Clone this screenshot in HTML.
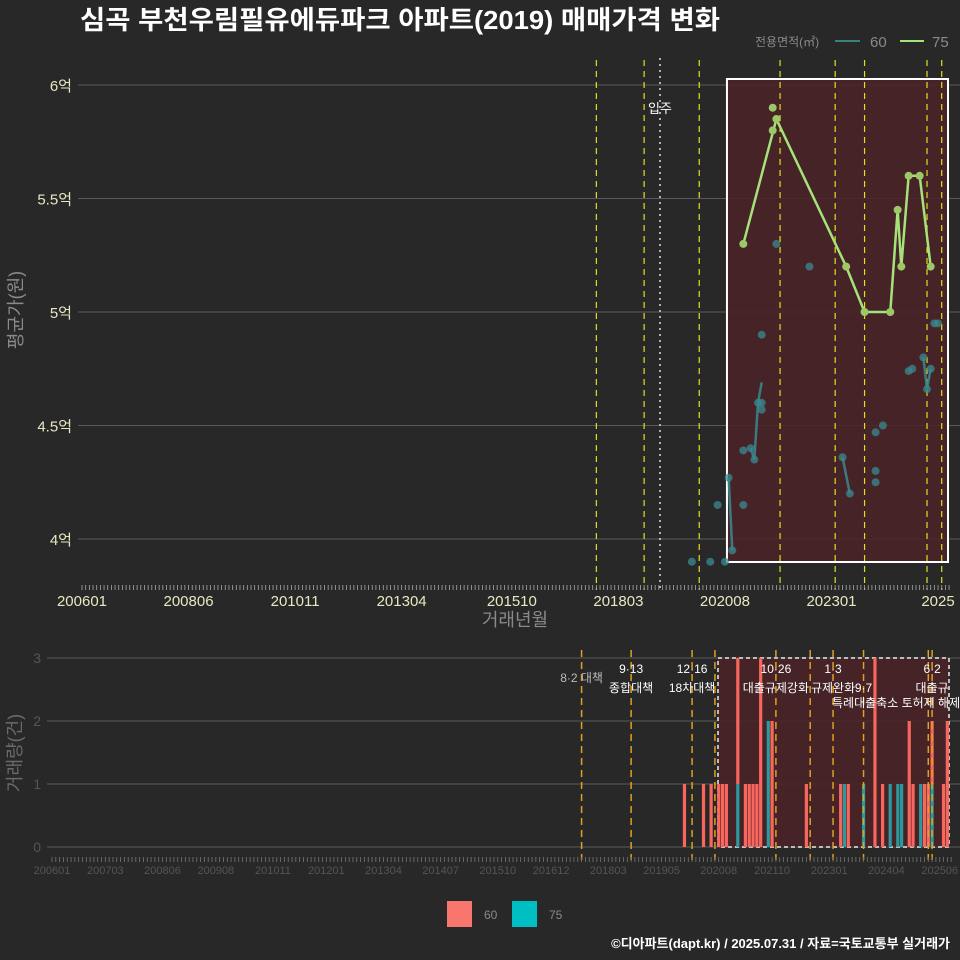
<!DOCTYPE html>
<html><head><meta charset="utf-8">
<style>
html,body{margin:0;padding:0;background:#282828;}
svg{display:block;}
text{font-family:"Liberation Sans","Noto Sans CJK KR",sans-serif;}
</style></head>
<body>
<svg id="chart" width="960" height="960" viewBox="0 0 960 960" xmlns="http://www.w3.org/2000/svg">
<rect x="0" y="0" width="960" height="960" fill="#282828"/>
<text x="80" y="29" font-size="26" font-weight="bold" fill="#ffffff" textLength="640" lengthAdjust="spacingAndGlyphs">심곡 부천우림필유에듀파크 아파트(2019) 매매가격 변화</text>
<g>
<text x="755" y="46" font-size="12" fill="#8a8a8a">전용면적(㎡)</text>
<line x1="835" y1="41" x2="860" y2="41" stroke="#3a7f86" stroke-width="2"/>
<text x="870" y="47" font-size="15" fill="#8a8a8a">60</text>
<line x1="900" y1="41" x2="924" y2="41" stroke="#a6e27a" stroke-width="2"/>
<text x="932" y="47" font-size="15" fill="#8a8a8a">75</text>
</g>
<g id="topPanel"></g>
<g id="botPanel"></g>
<g>
<rect x="447" y="901" width="25" height="26" fill="#f8766d"/>
<text x="484" y="919" font-size="12" fill="#8a8a8a">60</text>
<rect x="512" y="901" width="25" height="26" fill="#00bfc4"/>
<text x="549" y="919" font-size="12" fill="#8a8a8a">75</text>
</g>
<text x="950" y="948" font-size="13" font-weight="bold" fill="#ffffff" text-anchor="end">©디아파트(dapt.kr) / 2025.07.31 / 자료=국토교통부 실거래가</text>
</svg>
<script>
// ---- data ----
const pts75Months=["202101","202109","202109","202110","202305","202310","202405","202407","202408","202410","202501","202504"];
const pts75Values=[5.30,5.90,5.80,5.85,5.20,5.00,5.00,5.45,5.20,5.60,5.60,5.20];
const line75Months=["202101","202110","202305","202310","202405","202407","202408","202410","202501","202504"];
const line75Values=[5.30,5.85,5.20,5.00,5.00,5.45,5.20,5.60,5.60,5.20];
const pts60Months=["201911","202004","202006","202008","202009","202010","202101","202101","202103","202104","202105","202106","202106","202106","202110","202207","202304","202306","202401","202403","202401","202401","202410","202411","202502","202503","202504","202505","202506"];
const pts60Values=[3.90,3.90,4.15,3.90,4.27,3.95,4.15,4.39,4.40,4.35,4.60,4.60,4.57,4.90,5.30,5.20,4.36,4.20,4.47,4.50,4.30,4.25,4.74,4.75,4.80,4.66,4.75,4.95,4.95];
const line60Runs=[["202009","202010"],["202103","202104","202105","202106"],["202304","202306"],["202502","202503","202504"]];
const line60RunValues=[[4.27,3.95],[4.40,4.35,4.60,4.69],[4.36,4.20],[4.80,4.66,4.75]];
const priceTicks=[4,4.5,5,5.5,6];
const priceTickLabels=["4억","4.5억","5억","5.5억","6억"];
const topXLabels=["200601","200806","201011","201304","201510","201803","202008","202301","202506"];
const topXText=["200601","200806","201011","201304","201510","201803","202008","202301","2025"];
const volMonths60=["201911","202004","202006","202008","202009","202010","202101","202103","202104","202105","202106","202107","202110","202207","202304","202306","202401","202403","202410","202411","202502","202503","202504","202507","202508"];
const volCounts60=[1,1,1,1,1,1,2,1,1,1,1,3,2,1,1,1,3,1,2,1,1,1,1,1,2];
const volMonths75=["202101","202109","202305","202310","202405","202407","202408","202501","202504"];
const volCounts75=[1,2,1,1,1,1,1,1,1];
const volTicks=[0,1,2,3];
const botXLabels=["200601","200703","200806","200908","201011","201201","201304","201407","201510","201612","201803","201905","202008","202110","202301","202404","202506"];
const topEvents=["201709","201810","202001","202111","202302","202310","202503","202507"];
const botEvents=["201708","201809","202001","202007","202111","202208","202302","202310","202503","202504"];
const eventTop=["8·2 대책","9·13","12·16","10·26","1·3","","6·2"];
const eventTopMonths=["201708","201809","202001","202111","202302","202310","202504"];
const eventBottom=["","종합대책","18차대책","대출규제강화","규제완화","9·7","대출규"];

// ---- scales ----
function mIdx(s){return (parseInt(s.slice(0,4))-2006)*12+parseInt(s.slice(4,6))-1;}
function xT(s){return 82+mIdx(s)*3.674;}
function yT(v){return 539-(v-4)*227;}
function xB(s){return 52+mIdx(s)*3.81;}
function yB(c){return 847-c*63;}
const NS="http://www.w3.org/2000/svg";
function mk(parent,tag,attrs){const e=document.createElementNS(NS,tag);for(const k in attrs)e.setAttribute(k,attrs[k]);parent.appendChild(e);return e;}

// ---- top panel ----
const topG=document.getElementById('topPanel');
priceTicks.forEach((v,i)=>{
 const g=mk(topG,'line',{x1:78,x2:960,y1:yT(v),y2:yT(v),stroke:'#5a5a5a','stroke-width':1});
 
 
 const t=mk(topG,'text',{x:72,y:yT(v)+6,'font-size':15,fill:'#e8e8c0','text-anchor':'end'});
 t.textContent=priceTickLabels[i];
 
 
});
const shade=mk(topG,'rect',{x:xT("202008")+2,y:79,width:948-xT("202008")-2,height:483,fill:'#4a2226','fill-opacity':0.85,stroke:'#ffffff','stroke-width':2});


topEvents.forEach(m=>{
 const l=mk(topG,'line',{x1:xT(m),x2:xT(m),y1:60,y2:590,stroke:'#e0e020','stroke-width':1.2,'stroke-dasharray':'6 5'});
 
 
});
const mv=mk(topG,'line',{x1:660,x2:660,y1:58,y2:590,stroke:'#dddddd','stroke-width':1.5,'stroke-dasharray':'2 4'});


const mvt=mk(topG,'text',{x:660,y:113,'font-size':13,fill:'#ffffff','text-anchor':'middle'});
mvt.textContent='입주';


line60Runs.forEach((run,ri)=>{
 const d=run.map((m,i)=>(i?'L':'M')+xT(m)+','+yT(line60RunValues[ri][i])).join(' ');
 const p=mk(topG,'path',{d:d,fill:'none',stroke:'#3a8a92','stroke-width':2.5,'stroke-opacity':0.85});
 
 
});
pts60Months.forEach((m,i)=>{
 const c=mk(topG,'circle',{cx:xT(m),cy:yT(pts60Values[i]),r:4,fill:'#3a8a92','fill-opacity':0.75});
 
 
});
const d75=line75Months.map((m,i)=>(i?'L':'M')+xT(m)+','+yT(line75Values[i])).join(' ');
const p75=mk(topG,'path',{d:d75,fill:'none',stroke:'#a6e27a','stroke-width':2.5});


pts75Months.forEach((m,i)=>{
 const c=mk(topG,'circle',{cx:xT(m),cy:yT(pts75Values[i]),r:4,fill:'#9cc868'});
 
 
});
for(let m=0;m<=236;m++){
 const x=82+m*3.674; const l=mk(topG,'line',{x1:x,x2:x,y1:585,y2:590,stroke:'#aaaaaa','stroke-width':0.8});
 
 
}
topXLabels.forEach((s,i)=>{
 const t=mk(topG,'text',{x:xT(s),y:606,'font-size':15,fill:'#e8e8c0','text-anchor':'middle'});
 t.textContent=topXText[i];
 
 
});
const xt=mk(topG,'text',{x:515,y:626,'font-size':18,fill:'#8a8a8a','text-anchor':'middle'});
xt.textContent='거래년월';


const yt=mk(topG,'text',{x:0,y:0,'font-size':18,fill:'#8a8a8a','text-anchor':'middle',transform:'translate(22,310) rotate(-90)'});
yt.textContent='평균가(원)';



// ---- bottom panel ----
const botG=document.getElementById('botPanel');
volTicks.forEach(v=>{
 const g=mk(botG,'line',{x1:47,x2:960,y1:yB(v),y2:yB(v),stroke:'#5a5a5a','stroke-width':1});
 
 
 const t=mk(botG,'text',{x:41,y:yB(v)+5,'font-size':14,fill:'#555555','text-anchor':'end'});
 t.textContent=String(v);
 
 
});
const bs=mk(botG,'rect',{x:718,y:658,width:231,height:189,fill:'#4a2226','fill-opacity':0.85,stroke:'#bbbbbb','stroke-width':2,'stroke-dasharray':'4 3'});


const bw=3.2;
volMonths75.forEach((m,i)=>{
 const r=mk(botG,'rect',{x:xB(m)-bw/2,y:yB(volCounts75[i]),width:bw,height:volCounts75[i]*63,fill:'#2a9a9e'});
 
 
});
volMonths60.forEach((m,i)=>{
 const j=volMonths75.indexOf(m); const base=j>=0?volCounts75[j]:0;
 const r=mk(botG,'rect',{x:xB(m)-bw/2,y:yB(base+volCounts60[i]),width:bw,height:volCounts60[i]*63,fill:'#f8665d'});
 
 
});
botEvents.forEach(m=>{
 const l=mk(botG,'line',{x1:xB(m),x2:xB(m),y1:650,y2:860,stroke:'#e0a020','stroke-width':1.5,'stroke-dasharray':'7 5'});
 
 
});
eventTopMonths.forEach((m,i)=>{
 if(eventTop[i]){const t=mk(botG,'text',{x:xB(m),y:i==0?682:673,'font-size':12,fill:i==0?'#bbbbbb':'#ffffff','text-anchor':'middle'});
 t.textContent=eventTop[i];
 
 }
 if(eventBottom[i]){const t2=mk(botG,'text',{x:xB(m),y:692,'font-size':12,fill:'#ffffff','text-anchor':'middle'});
 t2.textContent=eventBottom[i];
 
 }
});
const e2=mk(botG,'text',{x:832,y:707,'font-size':12,fill:'#ffffff'});
e2.textContent='특례대출축소 토허제 해제';


for(let m=0;m<=236;m++){
 const x=52+m*3.81; const l=mk(botG,'line',{x1:x,x2:x,y1:857,y2:862,stroke:'#777777','stroke-width':0.8});
 
 
}
botXLabels.forEach(s=>{
 const t=mk(botG,'text',{x:xB(s),y:874,'font-size':11,fill:'#555555','text-anchor':'middle'});
 t.textContent=s;
 
 
});
const vt=mk(botG,'text',{x:0,y:0,'font-size':18,fill:'#6a6a6a','text-anchor':'middle',transform:'translate(21,753) rotate(-90)'});
vt.textContent='거래량(건)';


</script>
</body></html>
